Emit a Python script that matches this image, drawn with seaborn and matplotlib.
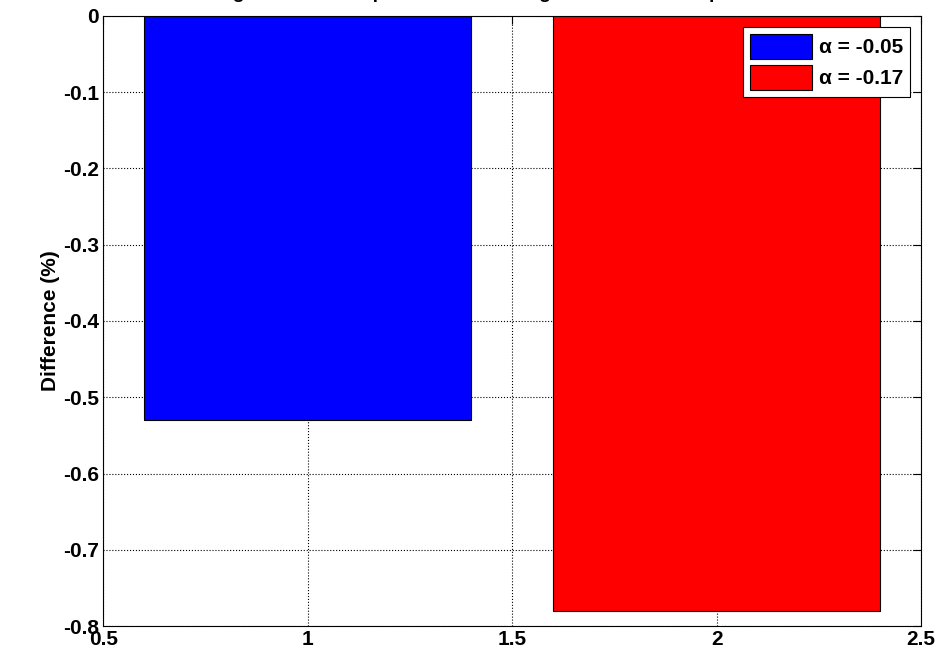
import pandas as pd
import matplotlib
matplotlib.use('Agg')
import matplotlib.pyplot as plt
import seaborn as sns

# datos
posiciones = [1, 2]
diferencias = [-0.53, -0.78]
etiquetas = ['α = -0.05', 'α = -0.17']
colores = ['#0000ff', '#ff0000']
yticks = [0, -0.1, -0.2, -0.3, -0.4, -0.5, -0.6, -0.7, -0.8]
xticks = [0.5, 1, 1.5, 2, 2.5]

sns.set_style('white')
plt.rcParams['font.family'] = ['Liberation Sans', 'DejaVu Sans']
plt.rcParams['font.weight'] = 'bold'

df = pd.DataFrame({'x': posiciones, 'dif': diferencias, 'alpha': etiquetas})

fig = plt.figure(figsize=(9.39, 6.57), dpi=100)
ax = fig.add_axes([0.110, 0.047, 0.871, 0.929])
sns.barplot(data=df, x='x', y='dif', hue='alpha', palette=colores,
            native_scale=True, width=0.8, dodge=False, saturation=1,
            edgecolor='black', linewidth=0.8, ax=ax)

ax.set_xlim(0.5, 2.5)
ax.set_ylim(-0.8, 0)
ax.set_xticks(xticks)
ax.set_xticklabels(['0.5', '1', '1.5', '2', '2.5'])
ax.set_yticks(yticks)
ax.set_yticklabels(['0', '-0.1', '-0.2', '-0.3', '-0.4', '-0.5', '-0.6', '-0.7', '-0.8'])
ax.tick_params(direction='in', length=6, width=0.8, top=True, right=True,
               labelsize=15, colors='black', pad=3)
for lab in ax.get_xticklabels() + ax.get_yticklabels():
    lab.set_fontweight('bold')
ax.grid(True, color='black', linestyle=':', linewidth=0.8)
ax.set_axisbelow(True)
for s in ax.spines.values():
    s.set_color('black')
    s.set_linewidth(0.8)

ax.set_xlabel('')
ax.set_ylabel('Difference (%)', fontsize=15, fontweight='bold', color='black', labelpad=2)

# el titulo queda casi todo fuera de la figura, como en el original
fig.text(0.474, 1.0035, 'Relative Change in Total Temperature due to High Albedo for Temperature',
         ha='center', va='baseline', fontsize=14, fontweight='bold', color='black')

leg = ax.legend(loc='upper right', fontsize=15, frameon=True, fancybox=False,
                edgecolor='black', framealpha=1, handlelength=3.0, handleheight=1.45,
                handletextpad=0.3, borderpad=0.35, labelspacing=0.3,
                borderaxespad=0, bbox_to_anchor=(0.9866, 0.982))
leg.get_frame().set_linewidth(0.8)
for t in leg.get_texts():
    t.set_fontweight('bold')
    t.set_color('black')

fig.savefig('out.png', dpi=100)
